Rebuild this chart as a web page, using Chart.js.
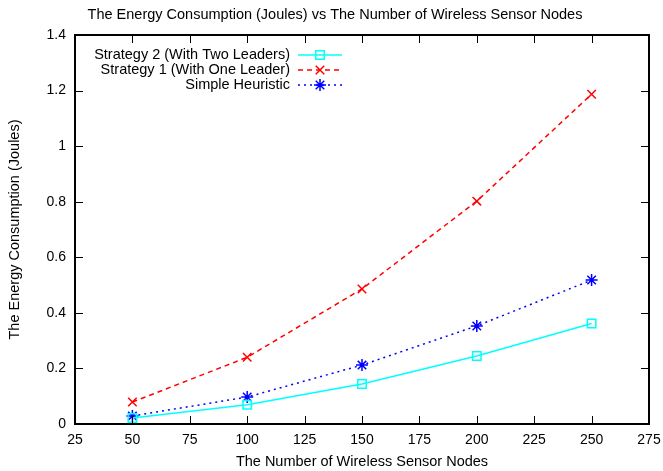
<!DOCTYPE html>
<html>
<head>
<meta charset="utf-8">
<script src="https://cdn.jsdelivr.net/npm/chart.js@4"></script>
<style>
  html, body { margin: 0; padding: 0; background: #fff; }
  canvas { display: block; }
</style>
</head>
<body>
<canvas id="energyChart" width="663" height="471"></canvas>
<script>
const nodes = [50, 100, 150, 200, 250];
const strategy2 = [0.022, 0.069, 0.144, 0.245, 0.362];
const strategy1 = [0.079, 0.240, 0.486, 0.802, 1.187];
const heuristic = [0.029, 0.097, 0.212, 0.353, 0.518];
const seriesLabels = ['Strategy 2 (With Two Leaders)', 'Strategy 1 (With One Leader)', 'Simple Heuristic'];

const chartTitle = 'The Energy Consumption (Joules) vs The Number of Wireless Sensor Nodes';
const fontFamily = '"Liberation Sans", Arial, Helvetica, sans-serif';

function toPoints(ys) {
  return nodes.map(function(x, i) { return { x: x, y: ys[i] }; });
}

// gnuplot style frame: box, inward ticks on all sides, title, key
const gnuplotFrame = {
  id: 'gnuplotFrame',
  afterDraw: function(chart) {
    const c = chart.ctx;
    const a = chart.chartArea;
    const xs = chart.scales.x;
    const ys = chart.scales.y;
    const len = 8;
    c.save();
    c.strokeStyle = '#000';
    c.lineWidth = 1;
    c.beginPath();
    xs.ticks.forEach(function(t) {
      const px = Math.round(xs.getPixelForValue(t.value)) + 0.5;
      c.moveTo(px, a.bottom); c.lineTo(px, a.bottom - len);
      c.moveTo(px, a.top); c.lineTo(px, a.top + len);
    });
    ys.ticks.forEach(function(t) {
      const py = Math.round(ys.getPixelForValue(t.value)) + 0.5;
      c.moveTo(a.left, py); c.lineTo(a.left + len, py);
      c.moveTo(a.right, py); c.lineTo(a.right - len, py);
    });
    c.stroke();
    c.lineWidth = 2;
    c.strokeRect(a.left, a.top, a.right - a.left, a.bottom - a.top);

    // title
    c.fillStyle = '#000';
    c.font = '14.5px ' + fontFamily;
    c.textAlign = 'center';
    c.textBaseline = 'middle';
    c.fillText(chartTitle, 335, 15);

    // key
    c.font = '14.5px ' + fontFamily;
    c.textAlign = 'right';
    chart.data.datasets.forEach(function(ds, i) {
      const y = 55 + i * 15;
      c.fillStyle = '#000';
      c.fillText(ds.label, 290, y);
      c.strokeStyle = ds.borderColor;
      c.lineWidth = ds.borderWidth;
      c.setLineDash(ds.borderDash || []);
      c.beginPath();
      c.moveTo(298, y); c.lineTo(342, y);
      c.stroke();
      c.setLineDash([]);
      c.fillStyle = 'rgba(0,0,0,0)';
      c.strokeStyle = ds.pointBorderColor;
      Chart.helpers.drawPoint(c, {
        pointStyle: ds.pointStyle,
        radius: ds.pointRadius,
        borderWidth: ds.pointBorderWidth
      }, 320, y);
    });
    c.restore();
  }
};

function fmtTick(value) {
  return String(Number(value.toFixed(1)));
}

new Chart(document.getElementById('energyChart').getContext('2d'), {
  type: 'line',
  data: {
    datasets: [{
      label: seriesLabels[0],
      data: toPoints(strategy2),
      borderColor: '#00ffff',
      borderWidth: 1.5,
      pointStyle: 'rect',
      pointRadius: 6,
      pointBorderWidth: 1.5,
      pointBorderColor: '#00ffff',
      pointBackgroundColor: 'rgba(0,0,0,0)',
      fill: false,
      tension: 0
    }, {
      label: seriesLabels[1],
      data: toPoints(strategy1),
      borderColor: '#ff0000',
      borderWidth: 1.5,
      borderDash: [5, 4],
      pointStyle: 'crossRot',
      pointRadius: 6,
      pointBorderWidth: 1.5,
      pointBorderColor: '#ff0000',
      fill: false,
      tension: 0
    }, {
      label: seriesLabels[2],
      data: toPoints(heuristic),
      borderColor: '#0000ff',
      borderWidth: 1.5,
      borderDash: [2, 4],
      pointStyle: 'star',
      pointRadius: 6,
      pointBorderWidth: 1.5,
      pointBorderColor: '#0000ff',
      fill: false,
      tension: 0
    }]
  },
  options: {
    responsive: false,
    animation: false,
    devicePixelRatio: 1,
    layout: { padding: { top: 35, right: 14, left: 0, bottom: 0 } },
    plugins: {
      legend: { display: false },
      title: { display: false },
      tooltip: { enabled: false }
    },
    scales: {
      x: {
        type: 'linear',
        min: 25,
        max: 275,
        afterFit: function(s) { s.height = 47; s.paddingLeft = 0; s.paddingRight = 0; },
        ticks: {
          stepSize: 25,
          color: '#000',
          padding: 8,
          maxRotation: 0,
          font: { family: fontFamily, size: 14 }
        },
        grid: { display: false, drawTicks: false },
        border: { display: false },
        title: {
          display: true,
          text: 'The Number of Wireless Sensor Nodes',
          color: '#000',
          padding: { top: 2, bottom: 0 },
          font: { family: fontFamily, size: 14.5 }
        }
      },
      y: {
        min: 0,
        max: 1.4,
        afterFit: function(s) { s.width = 75; s.paddingTop = 0; s.paddingBottom = 0; },
        ticks: {
          stepSize: 0.2,
          color: '#000',
          padding: 9,
          callback: fmtTick,
          font: { family: fontFamily, size: 14 }
        },
        grid: { display: false, drawTicks: false },
        border: { display: false },
        title: {
          display: true,
          text: 'The Energy Consumption (Joules)',
          color: '#000',
          padding: { top: 6, bottom: 0 },
          font: { family: fontFamily, size: 14.5 }
        }
      }
    }
  },
  plugins: [gnuplotFrame]
});
</script>
</body>
</html>
